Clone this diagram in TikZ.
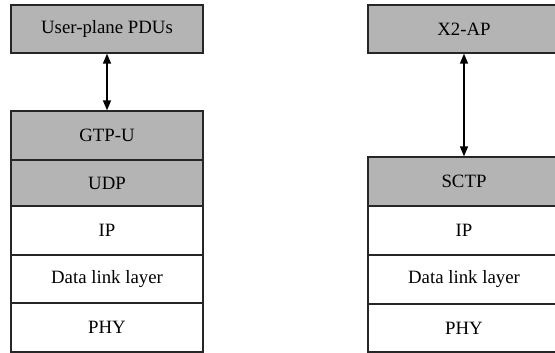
\documentclass[tikz,border=0pt]{standalone}
\usepackage{fontspec}
\setmainfont{Liberation Serif}
\usetikzlibrary{arrows.meta}
\definecolor{layergray}{RGB}{180,180,180}
\begin{document}
\begin{tikzpicture}[x=1pt,y=-1pt,
  layer/.style={draw=black!85, line width=1.3pt, minimum width=192pt,
    inner sep=0pt, font=\fontsize{18.8}{20}\selectfont, fill=white},
  shaded/.style={layer, fill=layergray},
  link/.style={line width=1.4pt, {Triangle[length=10pt,width=8pt]}-{Triangle[length=10pt,width=8pt]}}]
\useasboundingbox (0,0) rectangle (555,353);
\begin{scope}
\clip (0,0) rectangle (555,353);
% user plane stack
\node[shaded, minimum height=48pt] (updu) at (107,29) {User-plane PDUs};
\node[shaded, minimum height=49pt] (gtpu) at (107,135.5) {GTP-U};
\node[shaded, minimum height=46pt] (udp) at (107,183) {UDP};
\node[layer, minimum height=49pt] (ipl) at (107,230.5) {IP};
\node[layer, minimum height=48pt] (dll) at (107,279) {Data link layer};
\node[layer, minimum height=49pt] (phyl) at (107,327.5) {PHY};
% control plane stack
\node[shaded, minimum height=48pt] (x2ap) at (464,29) {X2-AP};
\node[shaded, minimum height=49pt] (sctp) at (464,181.5) {SCTP};
\node[layer, minimum height=49pt] (ipr) at (464,230.5) {IP};
\node[layer, minimum height=49pt] (dlr) at (464,279.5) {Data link layer};
\node[layer, minimum height=48pt] (phyr) at (464,328) {PHY};
\end{scope}
% peer connections
\draw[link] (updu.south) -- (gtpu.north);
\draw[link] (x2ap.south) -- (sctp.north);
\end{tikzpicture}
\end{document}
